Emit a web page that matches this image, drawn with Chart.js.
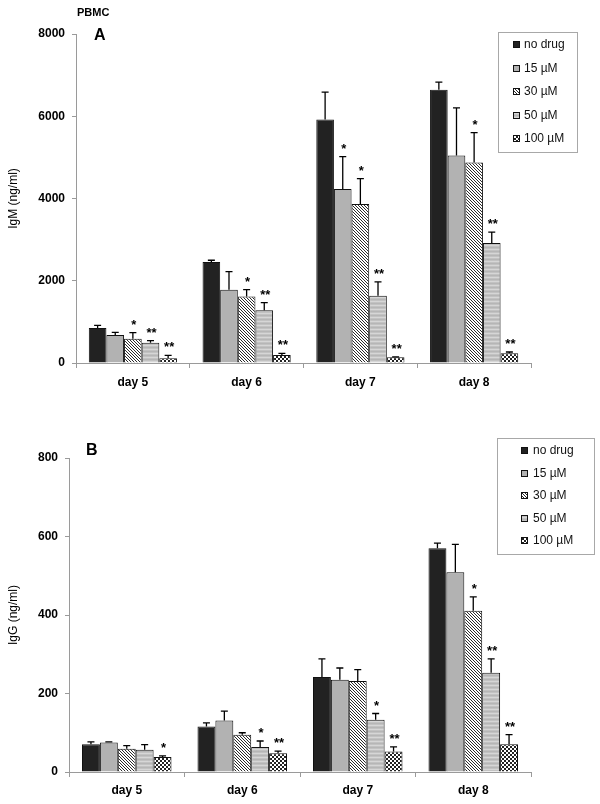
<!DOCTYPE html>
<html>
<head>
<meta charset="utf-8">
<script src="https://cdn.jsdelivr.net/npm/chart.js@4.4.1/dist/chart.umd.min.js"></script>
<style>
  body { margin: 0; background: #fff; font-family: "Liberation Sans", Arial, sans-serif; }
  #wrap { position: relative; width: 600px; height: 804px; }
  canvas { position: absolute; left: 0; }
  .lbl { position: absolute; font-weight: bold; color: #000; line-height: 1; }
</style>
</head>
<body>
<div id="wrap">
  <canvas id="chartA" width="600" height="400" style="top:0"></canvas>
  <canvas id="chartB" width="600" height="404" style="top:400px"></canvas>
  <div class="lbl" style="left:77px;top:7px;font-size:11px">PBMC</div>
  <div class="lbl" style="left:94px;top:27px;font-size:16px">A</div>
  <div class="lbl" style="left:86px;top:442px;font-size:16px">B</div>
</div>
<script>
// categories + series names
const days = ['day 5', 'day 6', 'day 7', 'day 8'];
const seriesNames = ['no drug', '15 µM', '30 µM', '50 µM', '100 µM'];

// Panel A - IgM (ng/ml)
const igmNoDrug = [851, 2457, 5920, 6642];
const igm15 = [681, 1784, 4234, 5044];
const igm30 = [591, 1614, 3869, 4873];
const igm50 = [494, 1282, 1638, 2920];
const igm100 = [114, 195, 139, 236];
// SD (upper error bar)
const igmErrNoDrug = [66, 41, 666, 187];
const igmErr15 = [66, 438, 785, 1160];
const igmErr30 = [146, 170, 615, 730];
const igmErr50 = [49, 186, 333, 260];
const igmErr100 = [73, 40, 11, 32];
// significance marks
const igmSig15 = ['', '', '*', ''];
const igmSig30 = ['*', '*', '*', '*'];
const igmSig50 = ['**', '**', '**', '**'];
const igmSig100 = ['**', '**', '**', '**'];

// Panel B - IgG (ng/ml)
const iggNoDrug = [71, 116, 242, 570];
const igg15 = [75, 131, 235, 509];
const igg30 = [59, 95, 232, 411];
const igg50 = [57, 64, 133, 253];
const igg100 = [38, 48, 52, 71];
const iggErrNoDrug = [6, 9, 46, 13];
const iggErr15 = [1.5, 24, 30, 71];
const iggErr30 = [8, 5, 29, 35];
const iggErr50 = [13, 15, 16, 35];
const iggErr100 = [3, 5, 12, 24];
const iggSig30 = ['', '', '', '*'];
const iggSig50 = ['', '*', '*', '**'];
const iggSig100 = ['*', '**', '**', '**'];

const noSig = ['', '', '', ''];
const FONT = '"Liberation Sans", Arial, sans-serif';

// fill patterns like the old excel hatch fills
function makePattern(kind) {
  const t = document.createElement('canvas');
  const n = kind == 'diag' ? 3 : 4;
  t.width = n; t.height = n;
  const c = t.getContext('2d');
  if (kind == 'diag') {
    c.fillStyle = '#fff'; c.fillRect(0, 0, n, n);
    c.fillStyle = '#2a2a2a';
    for (let i = 0; i < n; i++) c.fillRect(i, i, 1, 1);
  } else if (kind == 'hstripe') {
    c.fillStyle = '#c2c2c2'; c.fillRect(0, 0, 4, 4);
    c.fillStyle = '#d6d6d6'; c.fillRect(0, 1, 4, 1);
    c.fillStyle = '#b6b6b6'; c.fillRect(0, 3, 4, 1);
  } else {
    c.fillStyle = '#fff'; c.fillRect(0, 0, 4, 4);
    c.fillStyle = '#222';
    c.fillRect(0, 0, 2, 2); c.fillRect(2, 2, 2, 2);
  }
  return c.createPattern(t, 'repeat');
}
const fills = ['#222222', '#b2b2b2', makePattern('diag'), makePattern('hstripe'), makePattern('check')];

function buildSets(vals, errs, sigs) {
  return vals.map((v, i) => ({
    label: seriesNames[i],
    data: v,
    errs: errs[i],
    sigs: sigs[i],
    backgroundColor: fills[i],
    borderColor: '#111',
    borderWidth: 1,
    categoryPercentage: 0.775,
    barPercentage: 1
  }));
}

// error bars + asterisks
const errorBars = {
  id: 'errorBars',
  afterDatasetsDraw(chart) {
    const ctx = chart.ctx;
    const yS = chart.scales.y;
    ctx.save();
    chart.data.datasets.forEach((ds, i) => {
      const meta = chart.getDatasetMeta(i);
      meta.data.forEach((bar, j) => {
        const yTop = yS.getPixelForValue(ds.data[j] + ds.errs[j]);
        ctx.strokeStyle = '#000';
        ctx.lineWidth = 1.3;
        ctx.beginPath();
        ctx.moveTo(bar.x, bar.y);
        ctx.lineTo(bar.x, yTop);
        ctx.moveTo(bar.x - 3.5, yTop);
        ctx.lineTo(bar.x + 3.5, yTop);
        ctx.stroke();
        if (ds.sigs[j]) {
          ctx.fillStyle = '#000';
          ctx.font = 'bold 13px ' + FONT;
          ctx.textAlign = 'center';
          ctx.textBaseline = 'alphabetic';
          ctx.fillText(ds.sigs[j], bar.x + 1, yTop - 4);
        }
      });
    });
    ctx.restore();
  }
};

// framed legend inside the plot
const boxLegend = {
  id: 'boxLegend',
  afterDraw(chart, args, o) {
    const ctx = chart.ctx;
    ctx.save();
    ctx.strokeStyle = '#a8a8a8';
    ctx.lineWidth = 1;
    ctx.strokeRect(o.x + 0.5, o.y + 0.5, o.w, o.h);
    ctx.font = '12px ' + FONT;
    ctx.textBaseline = 'middle';
    ctx.textAlign = 'left';
    chart.data.datasets.forEach((ds, i) => {
      const cy = Math.round(o.y0 + i * o.step);
      ctx.fillStyle = ds.backgroundColor;
      ctx.fillRect(o.sx, cy - 3, 7, 7);
      ctx.strokeStyle = '#111';
      ctx.strokeRect(o.sx + 0.5, cy - 2.5, 6, 6);
      ctx.fillStyle = '#111';
      ctx.fillText(ds.label, o.tx, cy + 1);
    });
    ctx.restore();
  }
};

function makeChart(id, sets, yMax, yStep, yTitle, lay, legendBox) {
  return new Chart(document.getElementById(id), {
    type: 'bar',
    data: { labels: days, datasets: sets },
    options: {
      responsive: false,
      animation: false,
      layout: { padding: { top: lay.top, right: 69, bottom: 0, left: 0 } },
      plugins: {
        legend: { display: false },
        tooltip: { enabled: false },
        boxLegend: legendBox
      },
      scales: {
        x: {
          grid: { drawOnChartArea: false, offset: true, tickLength: 5, color: '#9a9a9a' },
          border: { color: '#9a9a9a' },
          ticks: { color: '#000', font: { family: FONT, size: 12, weight: 'bold' }, padding: lay.xPad },
          afterFit: (s) => { s.height = lay.xH; }
        },
        y: {
          min: 0,
          max: yMax,
          grid: { drawOnChartArea: false, tickLength: 4, color: '#9a9a9a' },
          border: { color: '#9a9a9a' },
          ticks: {
            stepSize: yStep,
            color: '#000',
            padding: 7,
            font: { family: FONT, size: 12, weight: 'bold' },
            callback: (v) => String(v)
          },
          title: {
            display: true,
            text: yTitle,
            color: '#000',
            font: { family: FONT, size: 12 },
            padding: { top: 6, bottom: 0 }
          },
          afterFit: (s) => { s.width = lay.yW; }
        }
      }
    },
    plugins: [errorBars, boxLegend]
  });
}

makeChart('chartA',
  buildSets([igmNoDrug, igm15, igm30, igm50, igm100],
    [igmErrNoDrug, igmErr15, igmErr30, igmErr50, igmErr100],
    [noSig, igmSig15, igmSig30, igmSig50, igmSig100]),
  8000, 2000, 'IgM (ng/ml)',
  { top: 34, xH: 37, yW: 76, xPad: 7 },
  { x: 498, y: 32, w: 79, h: 120, y0: 44, step: 23.5, sx: 513, tx: 524 });

makeChart('chartB',
  buildSets([iggNoDrug, igg15, igg30, igg50, igg100],
    [iggErrNoDrug, iggErr15, iggErr30, iggErr50, iggErr100],
    [noSig, noSig, iggSig30, iggSig50, iggSig100]),
  800, 200, 'IgG (ng/ml)',
  { top: 58, xH: 32, yW: 69, xPad: 6 },
  { x: 497, y: 38, w: 97, h: 116, y0: 50, step: 22.5, sx: 521, tx: 533 });
</script>
</body>
</html>
